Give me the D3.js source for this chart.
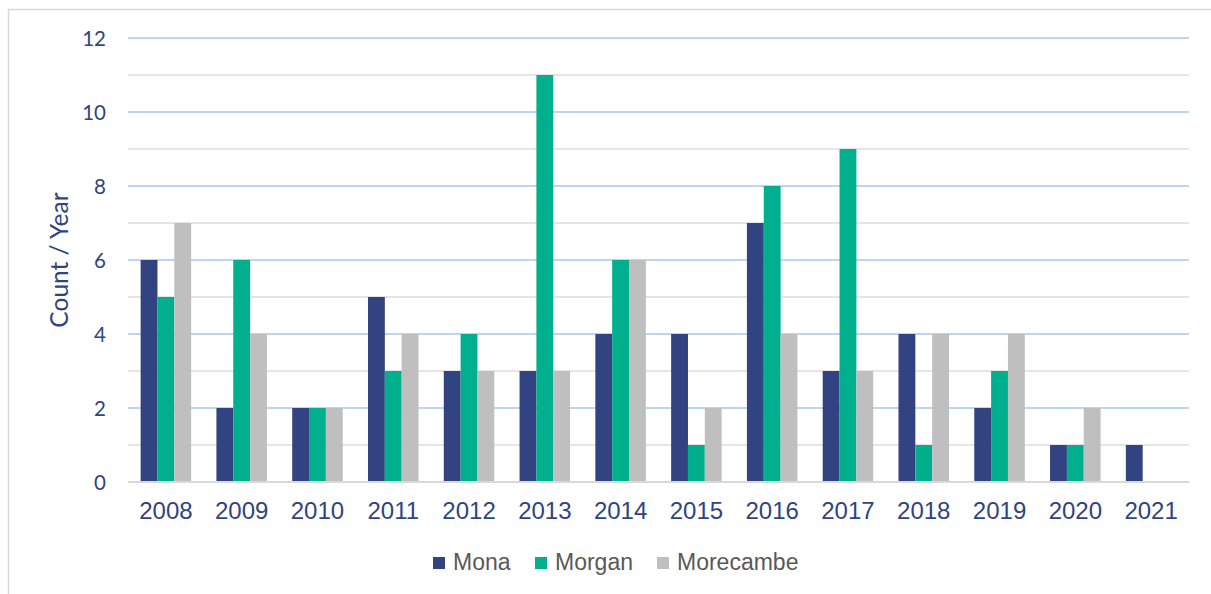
<!DOCTYPE html>
<html>
<head>
<meta charset="utf-8">
<script src="https://cdn.jsdelivr.net/npm/d3@7"></script>
<style>
  html, body { margin: 0; padding: 0; background: #fff; }
  svg { display: block; }
</style>
</head>
<body>
<svg id="chart" width="1211" height="594"></svg>
<script>
// Yearly counts per site
const years = ["2008","2009","2010","2011","2012","2013","2014","2015","2016","2017","2018","2019","2020","2021"];
const seriesNames = ["Mona", "Morgan", "Morecambe"];
const mona      = [6, 2, 2, 5, 3, 3, 4, 4, 7, 3, 4, 2, 1, 1];
const morgan    = [5, 6, 2, 3, 4, 11, 6, 1, 8, 9, 1, 3, 1, 0];
const morecambe = [7, 4, 2, 4, 3, 3, 6, 2, 4, 3, 4, 4, 2, 0];
const yTicks = [0, 2, 4, 6, 8, 10, 12];
const yMinor = [1, 3, 5, 7, 9, 11];

const colors = { Mona: "#314381", Morgan: "#00AF8D", Morecambe: "#BFBFBF" };
const seriesValues = { Mona: mona, Morgan: morgan, Morecambe: morecambe };

const svg = d3.select("#chart");

// Outer chart frame
svg.append("rect")
  .attr("x", 8.5).attr("y", 9.5)
  .attr("width", 1220).attr("height", 600)
  .attr("fill", "none")
  .attr("stroke", "#D9D9D9")
  .attr("stroke-width", 1.5);

const plot = { left: 128, right: 1189, top: 38, bottom: 482 };

const x0 = d3.scaleBand()
  .domain(years)
  .range([plot.left, plot.right])
  .paddingInner(1 / 3)
  .paddingOuter(1 / 6);

const x1 = d3.scaleBand()
  .domain(seriesNames)
  .range([0, x0.bandwidth()]);

const y = d3.scaleLinear()
  .domain([0, 12])
  .range([plot.bottom, plot.top]);

// Minor gridlines
svg.append("g").selectAll("line")
  .data(yMinor)
  .join("line")
  .attr("x1", plot.left).attr("x2", plot.right)
  .attr("y1", d => y(d)).attr("y2", d => y(d))
  .attr("stroke", "#DCDCDC")
  .attr("stroke-width", 1.5);

// Major gridlines
svg.append("g").selectAll("line")
  .data(yTicks.filter(d => d > 0))
  .join("line")
  .attr("x1", plot.left).attr("x2", plot.right)
  .attr("y1", d => y(d)).attr("y2", d => y(d))
  .attr("stroke", "#A5C8E8")
  .attr("stroke-width", 1.5);

// Bars
const rows = years.map((yr, i) => ({ year: yr, values: seriesNames.map(s => ({ key: s, value: seriesValues[s][i] })) }));

svg.append("g").selectAll("g")
  .data(rows)
  .join("g")
  .attr("transform", d => `translate(${x0(d.year)},0)`)
  .selectAll("rect")
  .data(d => d.values.filter(v => v.value > 0))
  .join("rect")
  .attr("x", d => x1(d.key))
  .attr("width", x1.bandwidth())
  .attr("y", d => y(d.value))
  .attr("height", d => y(0) - y(d.value))
  .attr("fill", d => colors[d.key]);

// Zero baseline
svg.append("line")
  .attr("x1", plot.left).attr("x2", plot.right)
  .attr("y1", y(0)).attr("y2", y(0))
  .attr("stroke", "#D9D9D9")
  .attr("stroke-width", 2);

// Y axis labels
const yAxis = d3.axisLeft(y).tickValues(yTicks).tickSize(0).tickPadding(0);
const gy = svg.append("g")
  .attr("transform", `translate(106,0)`)
  .call(yAxis);
gy.select(".domain").remove();
gy.selectAll("text")
  .attr("fill", "#2F4480")
  .attr("font-family", "Lato, 'Open Sans', sans-serif")
  .attr("font-size", 20.5)
  .attr("dy", "0.36em");

// X axis labels
const xAxis = d3.axisBottom(x0).tickSize(0).tickPadding(0);
const gx = svg.append("g")
  .attr("transform", `translate(0,${plot.bottom})`)
  .call(xAxis);
gx.select(".domain").remove();
gx.selectAll("text")
  .attr("fill", "#2F4480")
  .attr("font-family", "'Liberation Sans', Arial, sans-serif")
  .attr("font-size", 24)
  .attr("dy", null)
  .attr("y", 37);

// Y axis title
svg.append("text")
  .attr("transform", `translate(68,260) rotate(-90)`)
  .attr("text-anchor", "middle")
  .attr("fill", "#2F4480")
  .attr("font-family", "Lato, 'Open Sans', sans-serif")
  .attr("font-size", 24.5)
  .text("Count / Year");

// Legend
const legendX = [433, 535, 657];
const legend = svg.append("g").selectAll("g")
  .data(seriesNames)
  .join("g")
  .attr("transform", (d, i) => `translate(${legendX[i]},557)`);
legend.append("rect")
  .attr("width", 12).attr("height", 12)
  .attr("fill", d => colors[d]);
legend.append("text")
  .attr("x", 20).attr("y", 12.5)
  .attr("fill", "#595959")
  .attr("font-family", "'Liberation Sans', Arial, sans-serif")
  .attr("font-size", 23)
  .text(d => d);
</script>
</body>
</html>
